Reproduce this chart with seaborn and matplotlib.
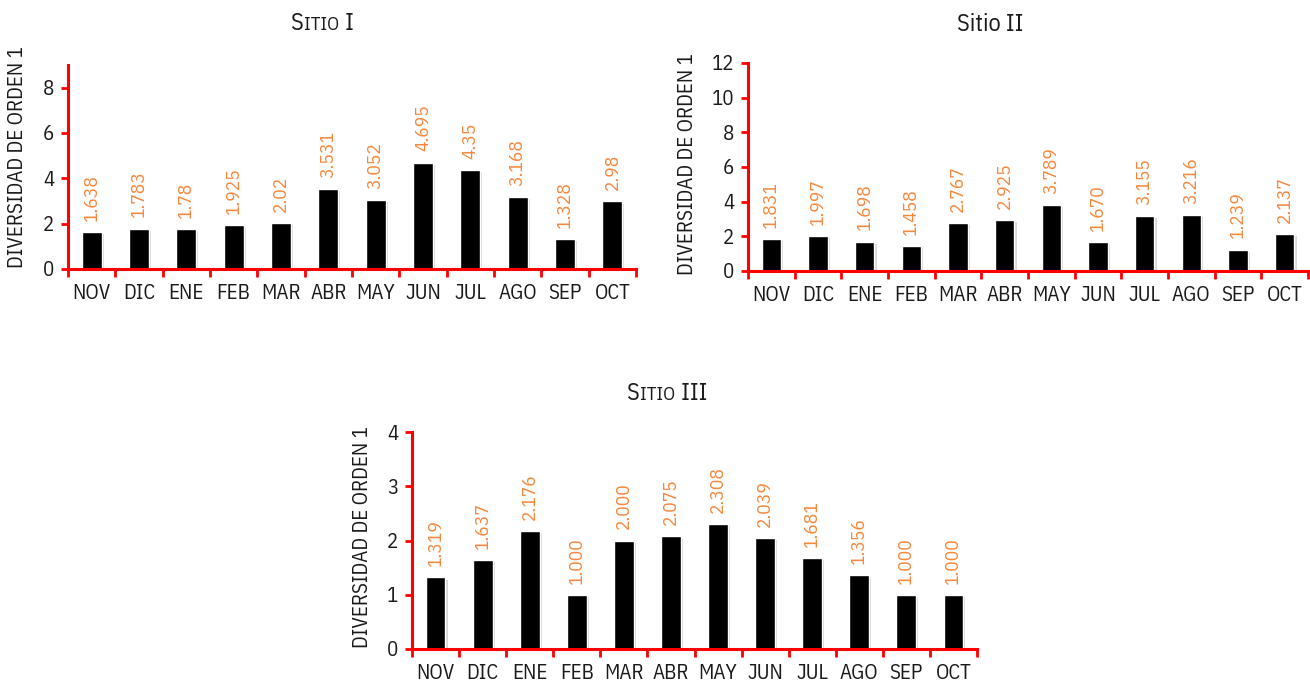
import matplotlib
matplotlib.use('Agg')
import matplotlib.pyplot as plt
import matplotlib.patheffects as pe
import pandas as pd
import seaborn as sns

months = ['NOV', 'DIC', 'ENE', 'FEB', 'MAR', 'ABR', 'MAY', 'JUN', 'JUL', 'AGO', 'SEP', 'OCT']
sitio1 = [1.638, 1.783, 1.78, 1.925, 2.02, 3.531, 3.052, 4.695, 4.35, 3.168, 1.328, 2.98]
sitio1_labels = ['1.638', '1.783', '1.78', '1.925', '2.02', '3.531', '3.052', '4.695', '4.35', '3.168', '1.328', '2.98']
sitio2 = [1.831, 1.997, 1.698, 1.458, 2.767, 2.925, 3.789, 1.670, 3.155, 3.216, 1.239, 2.137]
sitio3 = [1.319, 1.637, 2.176, 1.000, 2.000, 2.075, 2.308, 2.039, 1.681, 1.356, 1.000, 1.000]
sitio2_labels = ['%.3f' % v for v in sitio2]
sitio3_labels = ['%.3f' % v for v in sitio3]

sns.set_style('white')
plt.rcParams['font.family'] = ['IBM Plex Sans Condensed', 'DejaVu Sans']

RED = '#ff0000'
ORANGE = '#f7873c'
INK = '#1a1a1a'
W, H = 1310, 685

fig = plt.figure(figsize=(13.1, 6.85), dpi=100)


def draw(rect, values, labels, ymax, yticks, lab_x, lab_y):
    ax = fig.add_axes(rect)
    df = pd.DataFrame({'mes': months, 'valor': values})
    sns.barplot(data=df, x='mes', y='valor', color='black', width=0.42, ax=ax,
                saturation=1)
    for p in ax.patches:
        p.set_path_effects([pe.SimplePatchShadow(offset=(1.5, -1.5), shadow_rgbFace='#aaaaaa', alpha=0.45),
                            pe.Normal()])
    for i, (v, lab) in enumerate(zip(values, labels)):
        ax.annotate(lab, (i, v), xytext=(0, 8), textcoords='offset points',
                    rotation=90, ha='center', va='bottom', color=ORANGE, fontsize=14)
    ax.set_xlim(-0.5, 11.5)
    ax.set_ylim(0, ymax)
    ax.set_yticks(yticks)
    ax.set_xlabel('')
    ax.set_ylabel('DIVERSIDAD DE ORDEN 1', fontsize=15, color=INK)
    ax.yaxis.set_label_coords(lab_x, lab_y)
    for s in ['top', 'right']:
        ax.spines[s].set_visible(False)
    for s in ['left', 'bottom']:
        ax.spines[s].set_color(RED)
        ax.spines[s].set_linewidth(2.2)
    ax.tick_params(axis='y', left=True, color=RED, width=2, length=5, pad=5,
                   labelsize=15, labelcolor=INK)
    ax.tick_params(axis='x', bottom=False, length=0, pad=11, labelsize=15, labelcolor=INK)
    ax.set_xticks([i - 0.5 for i in range(13)], minor=True)
    ax.tick_params(axis='x', which='minor', bottom=True, color=RED, width=2, length=6)
    return ax


ax1 = draw([68 / W, 1 - 269 / H, 568 / W, 204 / H], sitio1, sitio1_labels, 9, [0, 2, 4, 6, 8],
           -0.072, 0.55)
ax2 = draw([748 / W, 1 - 271 / H, 560 / W, 208 / H], sitio2, sitio2_labels, 12,
           [0, 2, 4, 6, 8, 10, 12], -0.091, 0.514)
ax3 = draw([412 / W, 1 - 649 / H, 565 / W, 217 / H], sitio3, sitio3_labels, 4, [0, 1, 2, 3, 4],
           -0.071, 0.516)

renderer = fig.canvas.get_renderer()


def smallcaps_title(x_px, base_px, parts):
    # parts: (text, fontsize) placed one after another on the same baseline
    x = x_px
    for txt, size in parts:
        t = fig.text(x / W, 1 - base_px / H, txt, fontsize=size, color=INK,
                     ha='left', va='baseline')
        x = t.get_window_extent(renderer).x1 + 1


smallcaps_title(290, 30, [('S', 17.5), ('ITIO', 13.5), (' I', 17.5)])
smallcaps_title(626, 400, [('S', 17.5), ('ITIO', 13.5), (' III', 17.5)])
fig.text(990 / W, 1 - 31 / H, 'Sitio II', fontsize=17.5, color=INK, va='baseline', ha='center')

fig.savefig('out.png', dpi=100)
